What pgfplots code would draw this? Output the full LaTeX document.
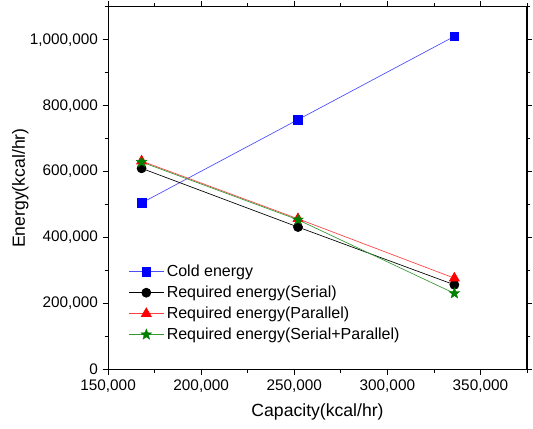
\documentclass[border=0pt]{standalone}
\usepackage{fontspec}
\setmainfont{Liberation Sans}
\usepackage{pgfplots}
\pgfplotsset{compat=1.18}
\definecolor{dgreen}{RGB}{0,128,0}
\pgfdeclareplotmark{fstar}{%
  \pgfpathmoveto{\pgfqpointpolar{90}{\pgfplotmarksize}}%
  \pgfpathlineto{\pgfqpointpolar{126}{0.42\pgfplotmarksize}}%
  \pgfpathlineto{\pgfqpointpolar{162}{\pgfplotmarksize}}%
  \pgfpathlineto{\pgfqpointpolar{198}{0.42\pgfplotmarksize}}%
  \pgfpathlineto{\pgfqpointpolar{234}{\pgfplotmarksize}}%
  \pgfpathlineto{\pgfqpointpolar{270}{0.42\pgfplotmarksize}}%
  \pgfpathlineto{\pgfqpointpolar{306}{\pgfplotmarksize}}%
  \pgfpathlineto{\pgfqpointpolar{342}{0.42\pgfplotmarksize}}%
  \pgfpathlineto{\pgfqpointpolar{18}{\pgfplotmarksize}}%
  \pgfpathlineto{\pgfqpointpolar{54}{0.42\pgfplotmarksize}}%
  \pgfpathclose
  \pgfusepathqfillstroke}
\begin{document}
\begin{tikzpicture}
\begin{axis}[
  scale only axis,
  width=314pt, height=272pt,
  xmin=150000, xmax=375000,
  ymin=0, ymax=1100000,
  scaled ticks=false,
  xtick={150000,200000,250000,300000,350000},
  xticklabels={{150,000},{200,000},{250,000},{300,000},{350,000}},
  minor xtick={175000,225000,275000,325000,375000},
  ytick={0,200000,400000,600000,800000,1000000},
  yticklabels={0,{200,000},{400,000},{600,000},{800,000},{1,000,000}},
  minor ytick={100000,300000,500000,700000,900000,1100000},
  tick align=outside,
  major tick length=4pt, minor tick length=2.5pt,
  tick style={black, line width=0.6pt},
  axis line style={line width=0.8pt},
  ticklabel style={font=\fontsize{11.5}{13}\selectfont},
  xlabel={Capacity(kcal/hr)},
  ylabel={Energy(kcal/hr)},
  label style={font=\fontsize{13.2}{15}\selectfont},
  xlabel style={yshift=-2pt},
  ylabel style={yshift=-6pt},
  legend style={draw=none, fill=none, at={(0.045,0.30)}, anchor=north west,
    font=\fontsize{12}{14}\selectfont, row sep=1.5pt, inner sep=1pt},
  legend cell align=left,
  legend image code/.code={
    \draw[mark repeat=2,mark phase=2,#1] plot coordinates {(0cm,0cm) (0.46cm,0cm) (0.92cm,0cm)};},
]
\addplot[blue!70, line width=0.5pt, mark=square*, mark options={blue, solid}, mark size=3.2pt]
  coordinates {(168000,505000) (252000,757500) (336000,1010000)};
\addlegendentry{Cold energy}
\addplot[black, line width=0.5pt, mark=*, mark options={black}, mark size=3.4pt]
  coordinates {(168000,610000) (252000,432000) (336000,257000)};
\addlegendentry{Required energy(Serial)}
\addplot[red!75, line width=0.5pt, mark=triangle*, mark options={red}, mark size=4.3pt]
  coordinates {(168000,632000) (252000,457000) (336000,277000)};
\addlegendentry{Required energy(Parallel)}
\addplot[dgreen!80, line width=0.5pt, mark=fstar, mark options={dgreen, fill=dgreen, line width=0.3pt}, mark size=4.2pt]
  coordinates {(168000,629000) (252000,454000) (336000,231000)};
\addlegendentry{Required energy(Serial+Parallel)}
\end{axis}
\path (current axis.south west) ++(-81pt,-44pt);
\path (current axis.north east) ++(4.5pt,5pt);
\end{tikzpicture}
\end{document}
